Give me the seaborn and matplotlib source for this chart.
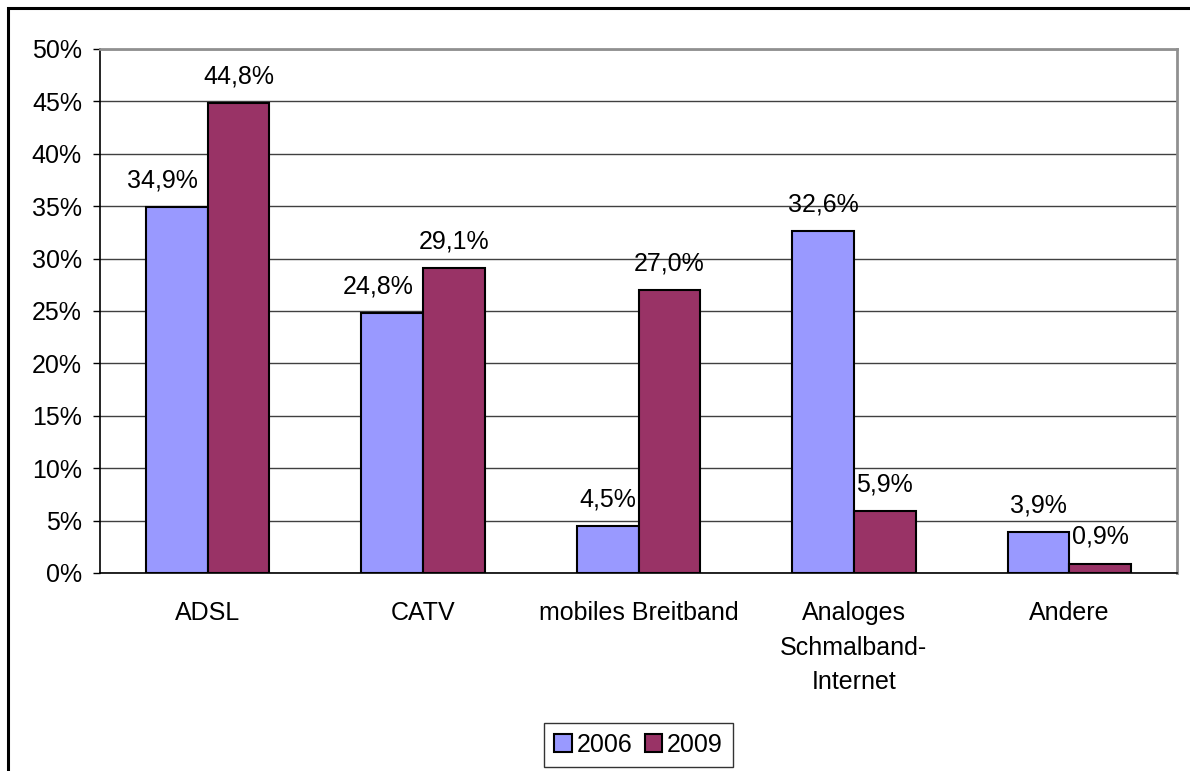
import matplotlib
matplotlib.use("Agg")
import matplotlib.pyplot as plt
import seaborn as sns
import pandas as pd
from matplotlib.patches import Rectangle

categories = ["ADSL", "CATV", "mobiles Breitband", "Analoges\nSchmalband-\nInternet", "Andere"]
years = ["2006", "2009"]
values_2006 = [34.9, 24.8, 4.5, 32.6, 3.9]
values_2009 = [44.8, 29.1, 27.0, 5.9, 0.9]
colors = ["#9999FF", "#993366"]

sns.set_theme(style="white")
plt.rcParams['font.family'] = ['Liberation Sans', 'DejaVu Sans']
plt.rcParams['text.color'] = 'black'
plt.rcParams['xtick.color'] = 'black'
plt.rcParams['ytick.color'] = 'black'
plt.rcParams['axes.labelcolor'] = 'black'
FS = 18
PAD = 10.5

df = pd.DataFrame({
    "cat": categories * 2,
    "year": [years[0]] * 5 + [years[1]] * 5,
    "val": [v / 100 for v in values_2006] + [v / 100 for v in values_2009],
})

fig = plt.figure(figsize=(11.9, 7.71), dpi=100)
ax = fig.add_axes([100 / 1190, 1 - 573 / 771, (1177 - 100) / 1190, (573 - 49) / 771])

sns.barplot(data=df, x="cat", y="val", hue="year", palette=colors, ax=ax,
            edgecolor="black", linewidth=1.5, width=0.572, gap=0, saturation=1,
            order=categories, hue_order=years, errorbar=None)

ax.set_ylim(0, 0.5)
ax.set_xlim(-0.5, len(categories) - 0.5)
ax.set_yticks([i * 0.05 for i in range(11)])
ax.set_yticklabels([f"{i*5}%" for i in range(11)], fontsize=FS, color="black")
ax.set_xlabel("")
ax.set_ylabel("")
ax.set_xticks(range(len(categories)))
ax.set_xticklabels(categories, fontsize=FS, linespacing=1.54, va="top", color="black")
ax.set_xticks([i - 0.5 for i in range(len(categories) + 1)], minor=True)
ax.tick_params(axis="x", which="major", length=0, pad=20.5)
ax.tick_params(axis="x", which="minor", length=5, width=1, color="black", direction="out")
ax.tick_params(axis="y", which="major", length=5, width=1, color="black", direction="out", pad=8, left=True)

ax.yaxis.grid(True, color="#404040", linewidth=1)
ax.set_axisbelow(True)
for s in ["left", "bottom"]:
    ax.spines[s].set_color("black")
    ax.spines[s].set_linewidth(1.2)
for s in ["top", "right"]:
    ax.spines[s].set_color("#909090")
    ax.spines[s].set_linewidth(2)
    ax.spines[s].set_visible(True)

all_anns = []
for cont, vals in zip(ax.containers, [values_2006, values_2009]):
    labels = [f"{v:.1f}".replace(".", ",") + "%" for v in vals]
    anns = ax.bar_label(cont, labels=labels, padding=PAD, fontsize=FS, color="black")
    all_anns.append(anns)

# shift 2006 labels left when they would collide with a taller 2009 neighbour
fig.canvas.draw()
renderer = fig.canvas.get_renderer()
bars06 = list(ax.containers[0])
bars09 = list(ax.containers[1])
for ann, b6, b9 in zip(all_anns[0], bars06, bars09):
    ext = ann.get_window_extent(renderer)
    b6e = b6.get_window_extent(renderer)
    b9e = b9.get_window_extent(renderer)
    if b9e.y1 > ext.y0 and ext.x1 > b6e.x1 - 1:
        ann.xy = (b6.get_x() + b6.get_width(), b6.get_height())
        ann.xyann = (-7, PAD)
        ann.set_ha("right")

leg = ax.legend(loc="lower center", bbox_to_anchor=(638.5 / 1190, -8 / 771),
                bbox_transform=fig.transFigure, ncol=2, fontsize=FS,
                frameon=True, fancybox=False, edgecolor="black",
                handlelength=0.7, handleheight=0.7, handletextpad=0.2,
                columnspacing=0.5, borderpad=0.4)
leg.get_frame().set_linewidth(1)
for t in leg.get_texts():
    t.set_color("black")
for h in leg.legend_handles:
    h.set_edgecolor("black")
    h.set_linewidth(1.5)

fig.add_artist(Rectangle((8 / 1190, -0.1), 1.2, 1.1 - 8 / 771,
                         transform=fig.transFigure, fill=False,
                         edgecolor="black", linewidth=2.2))

fig.savefig("out.png", dpi=100)
